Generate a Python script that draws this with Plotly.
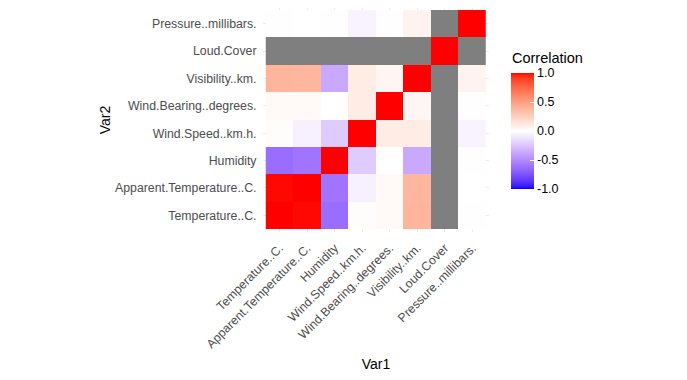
import numpy as np
import plotly.graph_objects as go

variables = ["Temperature..C.", "Apparent.Temperature..C.", "Humidity",
             "Wind.Speed..km.h.", "Wind.Bearing..degrees.", "Visibility..km.",
             "Loud.Cover", "Pressure..millibars."]

nan = None
# correlation matrix rows = Var2 (bottom to top), cols = Var1 (left to right)
row_temperature = [1.00, 0.99, -0.63, 0.01, 0.03, 0.39, nan, -0.005]
row_apparent    = [0.99, 1.00, -0.60, -0.06, 0.03, 0.38, nan, -0.0002]
row_humidity    = [-0.63, -0.60, 1.00, -0.22, 0.001, -0.37, nan, 0.005]
row_windspeed   = [0.01, -0.06, -0.22, 1.00, 0.10, 0.10, nan, -0.05]
row_windbearing = [0.03, 0.03, 0.001, 0.10, 1.00, 0.05, nan, -0.01]
row_visibility  = [0.39, 0.38, -0.37, 0.10, 0.05, 1.00, nan, 0.06]
row_loudcover   = [nan, nan, nan, nan, nan, nan, 1.00, nan]
row_pressure    = [-0.005, -0.0002, 0.005, -0.05, -0.01, 0.06, nan, 1.00]

z = [row_temperature, row_apparent, row_humidity, row_windspeed,
     row_windbearing, row_visibility, row_loudcover, row_pressure]

legend_ticks = [-1, -0.5, 0, 0.5, 1]
legend_ticktext = ["-1.0", "-0.5", "0.0", "0.5", "1.0"]

# --- Lab-space diverging colour scale (like ggplot2 scale_fill_gradient2) ---
def srgb_to_lab(rgb):
    c = np.array(rgb, dtype=float) / 255.0
    lin = np.where(c <= 0.04045, c / 12.92, ((c + 0.055) / 1.055) ** 2.4)
    M = np.array([[0.4124564, 0.3575761, 0.1804375],
                  [0.2126729, 0.7151522, 0.0721750],
                  [0.0193339, 0.1191920, 0.9503041]])
    xyz = M @ lin
    wp = np.array([0.95047, 1.0, 1.08883])
    t = xyz / wp
    f = np.where(t > (6 / 29) ** 3, np.cbrt(t), t / (3 * (6 / 29) ** 2) + 4 / 29)
    return np.array([116 * f[1] - 16, 500 * (f[0] - f[1]), 200 * (f[1] - f[2])])

def lab_to_srgb(lab):
    L, a, b = lab
    fy = (L + 16) / 116
    fx = fy + a / 500
    fz = fy - b / 200
    def finv(f):
        return f ** 3 if f > 6 / 29 else 3 * (6 / 29) ** 2 * (f - 4 / 29)
    wp = np.array([0.95047, 1.0, 1.08883])
    xyz = np.array([finv(fx), finv(fy), finv(fz)]) * wp
    Minv = np.array([[3.2404542, -1.5371385, -0.4985314],
                     [-0.9692660, 1.8760108, 0.0415560],
                     [0.0556434, -0.2040259, 1.0572252]])
    lin = np.clip(Minv @ xyz, 0, 1)
    c = np.where(lin <= 0.0031308, 12.92 * lin, 1.055 * lin ** (1 / 2.4) - 0.055)
    c = np.clip(c, 0, 1)
    return "rgb(%d,%d,%d)" % tuple(np.round(c * 255).astype(int))

lab_blue = srgb_to_lab([0, 0, 255])
lab_white = srgb_to_lab([255, 255, 255])
lab_red = srgb_to_lab([255, 0, 0])
colorscale = []
n = 20
for i in range(n + 1):
    t = i / n
    colorscale.append([0.5 * t, lab_to_srgb(lab_blue + (lab_white - lab_blue) * t)])
for i in range(1, n + 1):
    t = i / n
    colorscale.append([0.5 + 0.5 * t, lab_to_srgb(lab_white + (lab_red - lab_white) * t)])

na_mask = [[1 if v is None else None for v in row] for row in z]

# page has an 8px body margin; the figure is sized so it fits the window
OFF = 8
W, H = 687 - 2 * OFF, 380 - 2 * OFF
left = 263.25 - OFF
right_edge = 488.75 - OFF
plot_w = right_edge - left
plot_top, plot_bottom = 0.0, 232.0 - OFF
plot_h = plot_bottom - plot_top

fig = go.Figure()
fig.add_trace(go.Heatmap(
    z=na_mask, x=variables, y=variables,
    colorscale=[[0, "#7F7F7F"], [1, "#7F7F7F"]], zmin=0, zmax=1,
    showscale=False, hoverinfo="skip"))
fig.add_trace(go.Heatmap(
    z=z, x=variables, y=variables,
    colorscale=colorscale, zmin=-1, zmax=1,
    colorbar=dict(
        thickness=23, lenmode="pixels", len=116,
        x=(511 - OFF - left) / plot_w, xanchor="left", xpad=0,
        y=(plot_bottom - (131 - OFF)) / plot_h, yanchor="middle", ypad=0,
        tickvals=legend_ticks, ticktext=legend_ticktext,
        ticks="inside", ticklen=4, tickcolor="white",
        tickfont=dict(size=12.5, color="black"),
        outlinewidth=0),
))

fig.add_annotation(
    text="Correlation", xref="paper", yref="paper",
    x=(510 - OFF - left) / plot_w, y=(plot_bottom - (58 - OFF)) / plot_h,
    xanchor="left", yanchor="middle", showarrow=False,
    font=dict(size=14.5, color="black"))

# y range: tiles between page y 10 and 229, plot area page y 8..232
unit = (229 - 10) / 8.0
y_lo = -0.5 - (232 - 229) / unit
y_hi = 7.5 + (10 - 8) / unit

fig.update_layout(
    width=W, height=H, autosize=False,
    margin=dict(l=left, r=W - right_edge, t=plot_top, b=H - plot_bottom, pad=0),
    plot_bgcolor="white", paper_bgcolor="white",
    font=dict(family="Liberation Sans, Arial, sans-serif"),
    xaxis=dict(
        title=dict(text="Var1", font=dict(size=14, color="black"), standoff=12),
        range=[-0.6, 7.6], tickangle=-45, showgrid=True, gridcolor="#EBEBEB",
        zeroline=False, ticks="outside", ticklen=3, tickcolor="rgba(0,0,0,0)",
        tickfont=dict(size=12.3, color="#4D4D4D"), automargin=False),
    yaxis=dict(
        title=dict(text="Var2", font=dict(size=14, color="black"), standoff=1),
        range=[y_lo, y_hi], showgrid=True, gridcolor="#EBEBEB",
        zeroline=False, ticks="outside", ticklen=3, tickcolor="rgba(0,0,0,0)",
        tickfont=dict(size=12.3, color="#4D4D4D"), automargin=False),
)

fig.write_html("out.html")
